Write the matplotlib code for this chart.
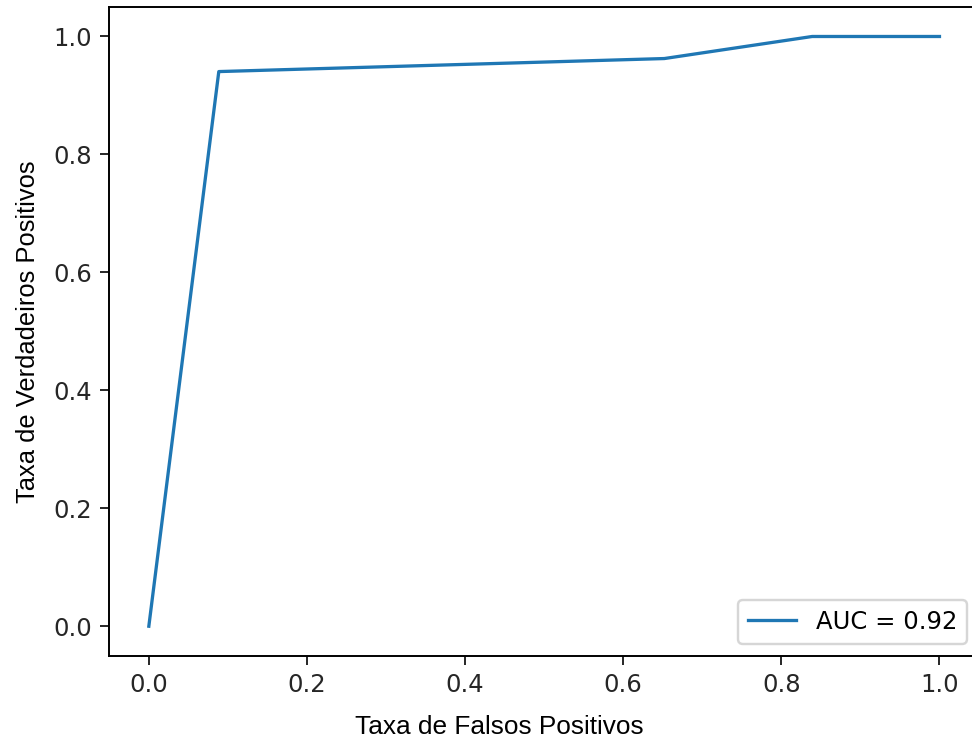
import matplotlib
matplotlib.use("Agg")
import matplotlib.pyplot as plt

# ROC curve points
fpr = [0.0, 0.0885, 0.652, 0.839, 1.0]
tpr = [0.0, 0.9405, 0.9626, 1.0, 1.0]
auc_label = "AUC = 0.92"

DPI = 175
fig = plt.figure(figsize=(972 / DPI, 744 / DPI), dpi=DPI)
# the original picture is cropped on the right, so the axes run past the edge
ax = fig.add_axes([109.3 / 972, (744 - 655.7) / 744,
                   (979 - 109.3) / 972, (655.7 - 7) / 744])

ax.plot(fpr, tpr, color="#1f77b4", lw=1.35, label=auc_label)
ax.set_xlim(-0.05, 1.05)
ax.set_ylim(-0.05, 1.05)
ax.set_xticks([0.0, 0.2, 0.4, 0.6, 0.8, 1.0])
ax.set_yticks([0.0, 0.2, 0.4, 0.6, 0.8, 1.0])
ax.tick_params(labelsize=10, colors="#262626", labelcolor="#262626")

ax.set_xlabel("Taxa de Falsos Positivos", family="Liberation Sans", fontsize=10.8)
ax.set_ylabel("Taxa de Verdadeiros Positivos", family="Liberation Sans", fontsize=10.5, labelpad=5.5)
# x label sits left of the axes centre in the reference
ax.xaxis.set_label_coords(0.449, -0.091)
ax.xaxis.label.set_va("top")

ax.legend(loc="lower right", fontsize=10)

fig.savefig("out.png", dpi=DPI)
